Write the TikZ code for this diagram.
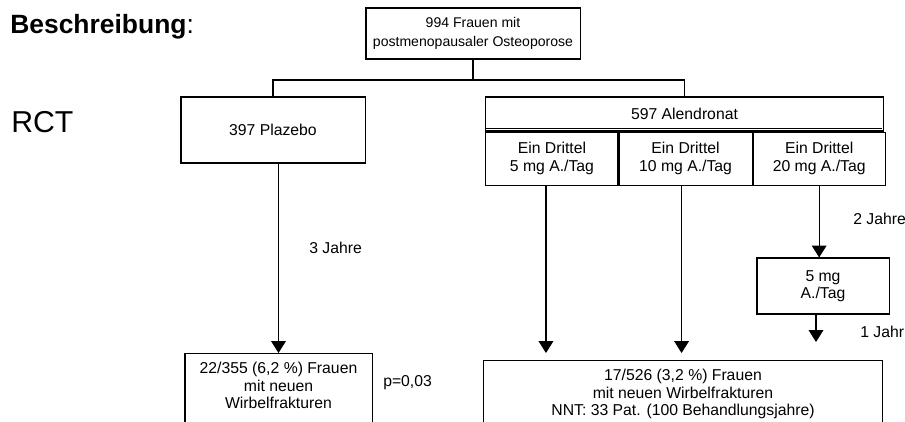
\documentclass[tikz,border=0pt]{standalone}
\usepackage{fontspec}
\setmainfont{Liberation Sans}
\usetikzlibrary{arrows.meta,positioning}

\begin{document}
\begin{tikzpicture}[x=0.025cm,y=-0.025cm,
    box/.style={draw,line width=0.75pt,inner sep=0pt,align=center,font=\fontsize{11.2}{12.5}\selectfont},
    lbl/.style={inner sep=0pt,anchor=west,font=\fontsize{11.2}{12.5}\selectfont},
    pfeil/.style={line width=0.75pt,-{Triangle[length=8.5pt,width=10.5pt]}}]
    \useasboundingbox (0,0) rectangle (905,421);
    % Ueberschriften links
    \node[anchor=base west,inner sep=0pt,font=\fontsize{18.8}{22}\selectfont] (titel) at (10,33) {\textbf{Beschreibung}:};
    \node[anchor=base west,inner sep=0pt,font=\fontsize{21.5}{25}\selectfont] (rct) at (11,132) {RCT};
    % Kaesten
    \node[box,minimum width=5.35cm,minimum height=1.275cm,font=\fontsize{10}{13}\selectfont] (frauen) at (473,33.5) {994 Frauen mit\\postmenopausaler Osteoporose};
    \node[box,minimum width=4.6cm,minimum height=1.65cm] (plazebo) at (273,130) {397 Plazebo};
    \node[box,minimum width=9.925cm,minimum height=0.85cm] (alen) at (684.5,114) {597 Alendronat};
    \node[box,minimum width=3.3cm,minimum height=1.325cm,anchor=north west] (dosis1) at (alen.south west) {Ein Drittel\\5 mg A./Tag};
    \node[box,minimum width=3.325cm,minimum height=1.325cm,anchor=north west] (dosis2) at (dosis1.north east) {Ein Drittel\\10 mg A./Tag};
    \node[box,minimum width=3.3cm,minimum height=1.325cm,anchor=north west] (dosis3) at (dosis2.north east) {Ein Drittel\\20 mg A./Tag};
    \draw[line width=0.75pt] (alen.south west) ++(0,-3) -- ++(397,0);
    \node[box,minimum width=3.3cm,minimum height=1.4cm] (erhalt) at (823,286) {5 mg\\A./Tag};
    \node[box,minimum width=4.675cm,minimum height=2.5cm,anchor=north] (ergPla) at (278.5,353) {};
    \node[lbl,align=center,below=0.225cm of ergPla.north] (txtPla) {22/355 (6,2 \%) Frauen\\mit neuen\\Wirbelfrakturen};
    \node[box,minimum width=9.95cm,minimum height=2.5cm,anchor=north] (ergAlen) at (683,360) {};
    \node[lbl,align=center,below=0.225cm of ergAlen.north] (txtAlen) {17/526 (3,2 \%) Frauen\\mit neuen Wirbelfrakturen\\NNT: 33 Pat. (100 Behandlungsjahre)};
    % Verbindungen
    \coordinate (mitte) at (473,80);
    \draw[line width=0.75pt] (frauen.south) -- (mitte);
    \draw[line width=0.75pt] (plazebo.north) |- (mitte) -| (alen.north);
    \draw[pfeil] (plazebo.south -| ergPla.north) -- (ergPla.north);
    \draw[pfeil] ([xshift=-0.15cm]dosis1.south) -- ([xshift=-0.15cm,yshift=0.175cm]dosis1.south |- ergAlen.north);
    \draw[pfeil] ([xshift=-0.1cm]dosis2.south) -- ([xshift=-0.1cm,yshift=0.175cm]dosis2.south |- ergAlen.north);
    \draw[pfeil] (dosis3.south) -- (dosis3.south |- erhalt.north);
    \draw[pfeil] ([xshift=-0.175cm]erhalt.south) -- ([xshift=-0.175cm,yshift=0.45cm]erhalt.south |- ergAlen.north);
    % Zeiten und p-Wert
    \node[lbl] (jahre3) at (309,248) {3 Jahre};
    \node[lbl] (jahre2) at (853,219) {2 Jahre};
    \node[lbl] (jahr1) at (860,332) {1 Jahr};
    \node[lbl] (pwert) at (383,383) {p=0,03};
\end{tikzpicture}
\end{document}
